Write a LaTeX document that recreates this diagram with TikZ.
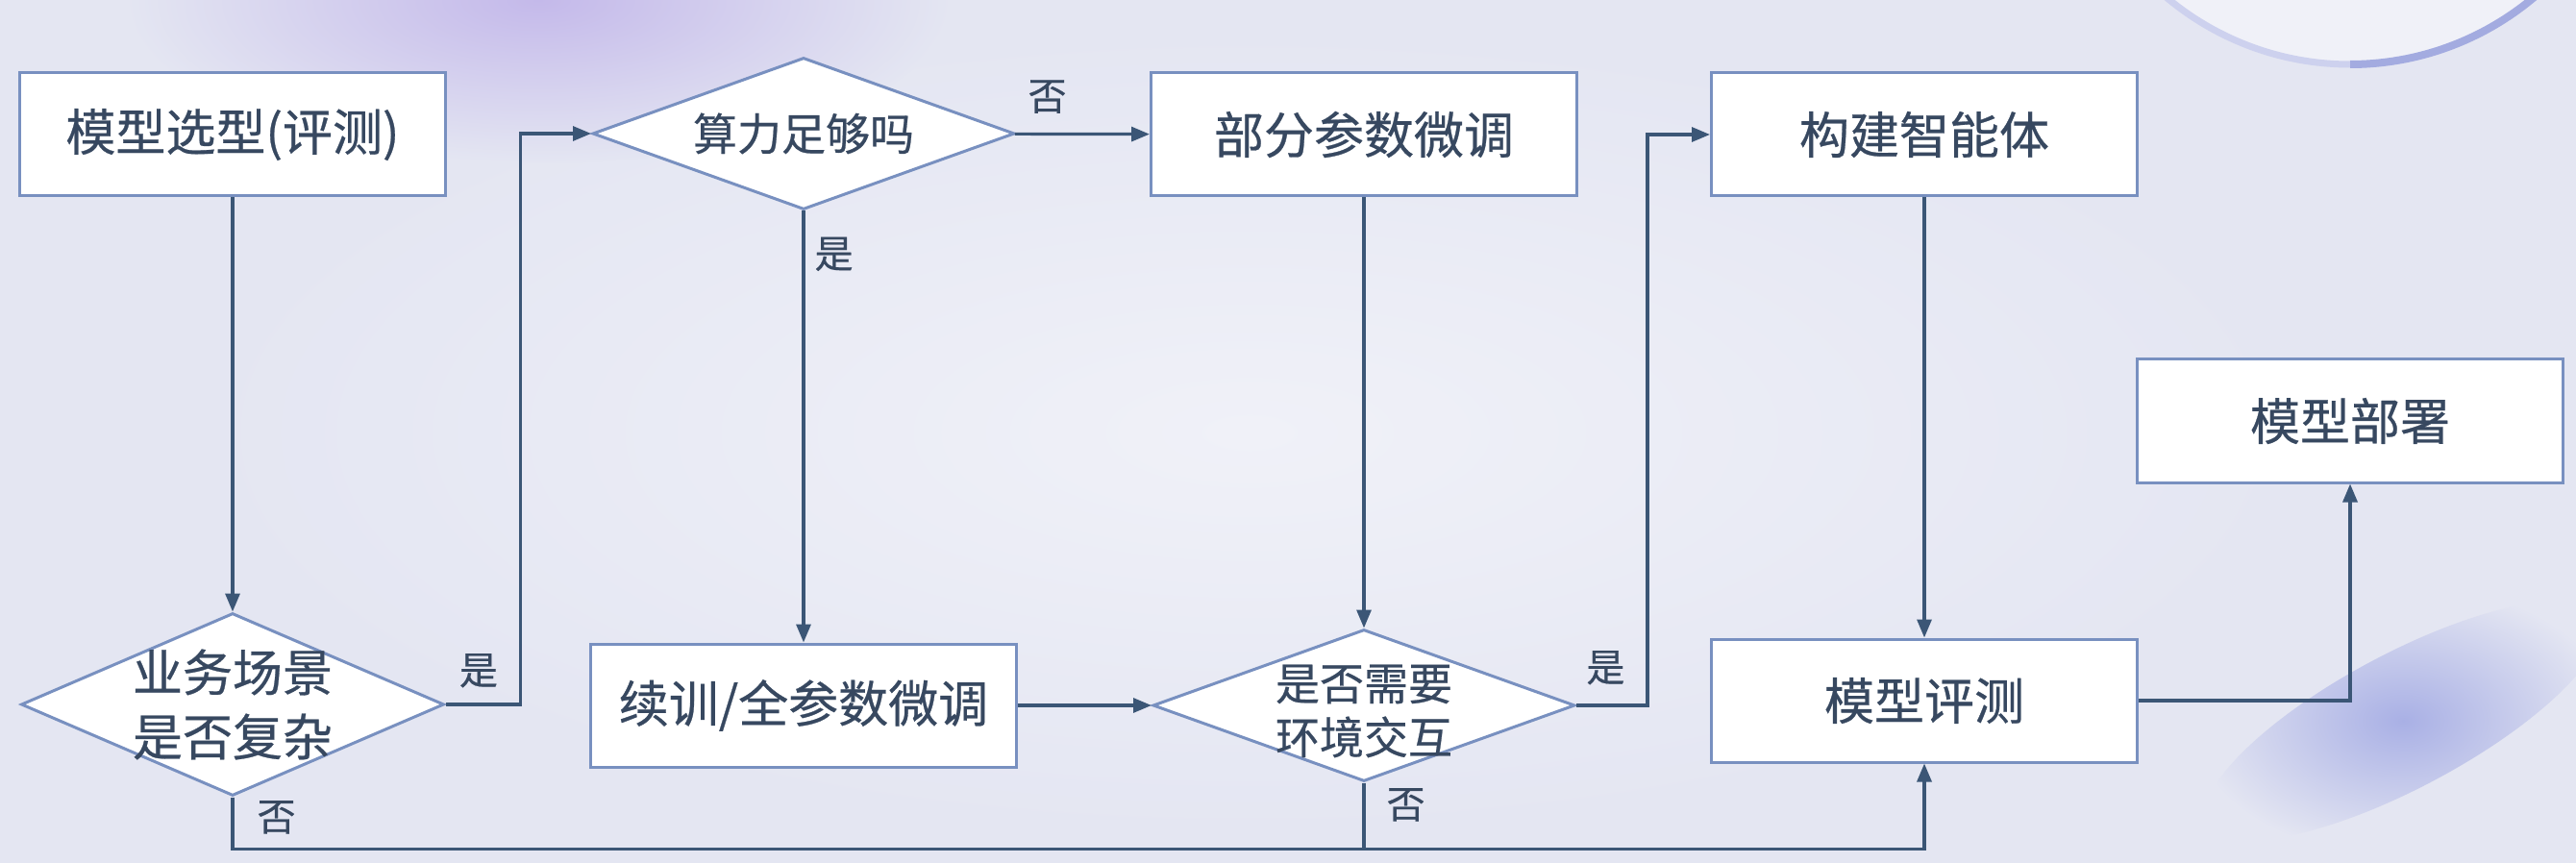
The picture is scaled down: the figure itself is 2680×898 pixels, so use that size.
\documentclass[tikz,border=0pt]{standalone}
\usepackage{fontspec}
\setmainfont{Noto Sans CJK SC}[FakeBold=0.5]
\usetikzlibrary{arrows.meta,shapes.geometric,calc,positioning}
\definecolor{fcLine}{HTML}{3B5676}
\definecolor{fcEdge}{HTML}{7890C0}
\definecolor{fcInk}{HTML}{374860}
\definecolor{fcBack}{HTML}{E4E6F2}
\definecolor{fcGlow}{HTML}{F0F1F8}
\definecolor{fcMauve}{HTML}{C4B9EA}
\definecolor{fcHaze}{HTML}{A9B0E5}
\definecolor{fcRim}{HTML}{A3ABE0}
\newcommand{\FCType}{\fontsize{26}{33.5}\selectfont}
\newcommand{\FCSmall}{\fontsize{23}{28}\selectfont}
\newcommand{\FCTag}{\fontsize{20}{24}\selectfont}
\tikzset{fc/base/.style={x=.5pt,y=-.5pt,line cap=butt,line join=miter,
  every node/.style={font=\FCType,inner sep=0pt,text=fcInk}},
  fc/arrow/.style={-{Triangle[length=9.5pt,width=7.5pt]},draw=fcLine,line width=1.6pt},
  fc/line/.style={draw=fcLine,line width=1.6pt},
  fc/box/.style={draw=fcEdge,fill=white,line width=1.5pt,minimum width=221.5pt,
    minimum height=64pt,align=center},
  fc/choice/.style={diamond,draw=fcEdge,fill=white,line width=1.5pt,
    minimum width=219.5pt,minimum height=79pt},
  fc/tag/.style={font=\FCTag}}

\begin{document}
\begin{tikzpicture}[fc/base]
  \useasboundingbox (0,0) rectangle (2680,898);
  % soft backdrop
  \begin{scope}
    \clip (0,0) rectangle (2680,898);
    \fill[fcBack] (0,0) rectangle (2680,898);
    \shade[inner color=fcGlow,outer color=fcBack] (1300,450) ellipse (1100 and 420);
    \shade[inner color=fcMauve,outer color=fcBack] (560,0) ellipse (430 and 170);
    \shade[inner color=fcHaze,outer color=fcBack,rotate around={28:(2500,750)}]
      (2500,750) ellipse (230 and 70);
    \fill[fcGlow] (2445,-230) circle (297);
    \draw[fcRim!55,line width=3.5pt] (2445,-230) ++(160:297) arc (160:90:297);
    \draw[fcRim,line width=4pt] (2445,-230) ++(90:297) arc (90:20:297);
  \end{scope}

  \node[fc/box] (select) at (242,140) {模型选型(评测)};
  \node[fc/choice,minimum width=220pt,minimum height=95pt] (scene) at (242,733) {};
  \node[align=center] (sceneText) at (scene) {业务场景\\是否复杂};
  \node[fc/choice] (power) at (836,139) {};
  \node[font=\FCSmall] (powerText) at (power) {算力足够吗};
  \node[fc/box] (partial) at (1419,140) {部分参数微调};
  \node[fc/box] (full) at (836,734) {续训/全参数微调};
  \node[fc/choice] (interact) at (1419,734) {};
  \node[font=\FCSmall,align=center] (interactText) at (1419,740) {是否需要\\环境交互};
  \node[fc/box] (agent) at (2002,140) {构建智能体};
  \node[fc/box] (evaluate) at (2002,729) {模型评测};
  \node[fc/box] (deploy) at (2445,438) {模型部署};

  \draw[fc/arrow] (select) -- (scene);
  \draw[fc/arrow] (scene.east) -- ++(78,0)
    node[fc/tag,above left=8pt and 11pt] (sceneYes) {是} |- (power.west);
  \draw[fc/arrow] (power) -- (partial)
    node[fc/tag,pos=.24,above=10pt] (powerNo) {否};
  \draw[fc/arrow] (power) -- (full)
    node[fc/tag,pos=.1,right=5pt] (powerYes) {是};
  \draw[fc/arrow] (full) -- (interact);
  \draw[fc/arrow] (partial) -- (interact);
  \draw[fc/arrow] (interact.east) -- ++(74,0)
    node[fc/tag,above left=10pt and 11pt] (interactYes) {是} |- (agent.west);
  \draw[fc/arrow] (agent) -- (evaluate);
  \draw[fc/arrow] (scene.south) node[fc/tag,below right=1pt and 12pt] (sceneNo) {否}
    -- ++(0,54) coordinate (lowRoute) -| (evaluate.south);
  \draw[fc/line] (interact.south) node[fc/tag,below right=2pt and 11pt] (interactNo) {否}
    -- (interact.south |- lowRoute);
  \draw[fc/arrow] (evaluate.east) -| (deploy.south);
\end{tikzpicture}
\end{document}
